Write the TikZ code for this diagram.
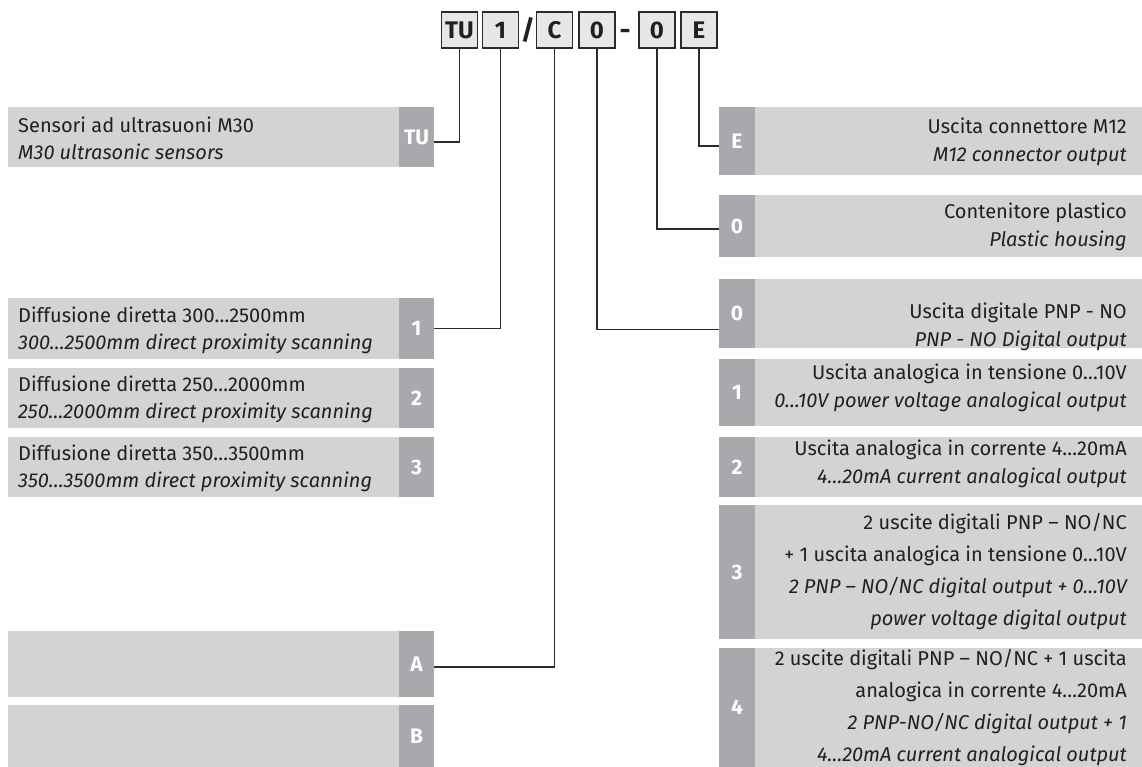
\documentclass[tikz,border=0pt]{standalone}
\usepackage{fontspec}
\setmainfont{Fira Sans}
\definecolor{panelc}{HTML}{D1D3D4}
\definecolor{tabc}{HTML}{A7A9AC}
\definecolor{boxc}{HTML}{E6E7E8}
\definecolor{linec}{HTML}{2B2B2B}
\definecolor{txtc}{HTML}{231F20}
\tikzset{
  panelbox/.style={fill=panelc, draw=none, inner sep=0pt, rectangle},
  lpanel/.style={panelbox, minimum width=426pt},
  rpanel/.style={panelbox, minimum width=423pt},
  ltab/.style={fill=tabc, draw=none, inner sep=0pt, minimum width=35pt, text=white, font=\fontsize{21}{21}\selectfont\bfseries},
  rtab/.style={fill=tabc, draw=none, inner sep=0pt, minimum width=36pt, text=white, font=\fontsize{21}{21}\selectfont\bfseries},
  ltext/.style={anchor=west, align=left, inner sep=0pt, text=txtc, font=\fontsize{20}{27}\selectfont},
  rtext/.style={anchor=east, align=right, inner sep=0pt, text=txtc, font=\fontsize{20}{28}\selectfont},
  rtextfour/.style={anchor=east, align=right, inner sep=0pt, text=txtc, font=\fontsize{20}{32}\selectfont},
  codebox/.style={draw=linec, line width=1.2pt, fill=boxc, minimum width=36pt, minimum height=36pt, inner sep=0pt, text=txtc, font=\fontsize{24}{24}\selectfont\bfseries},
  codesep/.style={inner sep=0pt, anchor=base, text=txtc, font=\fontsize{27}{27}\selectfont\bfseries},
  conn/.style={draw=linec, line width=1.3pt}
}
\begin{document}
\begin{tikzpicture}[x=1pt,y=-1pt]
\useasboundingbox (0,0) rectangle (1142,767);
% code boxes
\node[codebox] (cTU) at (459.5,30) {TU};
\node[codebox] (c1) at (500.5,30) {1};
\node[codesep] (slash) at (528,40) {/};
\node[codebox] (cC) at (554.5,30) {C};
\node[codebox] (c0a) at (597,30) {0};
\node[codesep] (dash) at (625,40) {-};
\node[codebox] (c0b) at (657,30) {0};
\node[codebox] (cE) at (699,30) {E};

% left panels
\node[lpanel, minimum height=60pt] (pTU) at (221,137) {};
\node[ltab, minimum height=60pt] (tTU) at (416.5,137) {TU};
\node[ltext] (xTU) at (18,138) {Sensori ad ultrasuoni M30\\\itshape M30 ultrasonic sensors};

\node[lpanel, minimum height=61pt] (p1) at (221,328.5) {};
\node[ltab, minimum height=61pt] (t1) at (416.5,328.5) {1};
\node[ltext] (x1) at (18,330) {Diffusione diretta 300…2500mm\\\itshape 300…2500mm direct proximity scanning};

\node[lpanel, minimum height=60pt] (p2) at (221,398) {};
\node[ltab, minimum height=60pt] (t2) at (416.5,398) {2};
\node[ltext] (x2) at (18,399.5) {Diffusione diretta 250…2000mm\\\itshape 250…2000mm direct proximity scanning};

\node[lpanel, minimum height=60pt] (p3) at (221,467) {};
\node[ltab, minimum height=60pt] (t3) at (416.5,467) {3};
\node[ltext] (x3) at (18,468.5) {Diffusione diretta 350…3500mm\\\itshape 350…3500mm direct proximity scanning};

\node[lpanel, minimum height=66pt] (pA) at (221,664) {};
\node[ltab, minimum height=66pt] (tA) at (416.5,664) {A};

\node[lpanel, minimum height=62pt] (pB) at (221,736) {};
\node[ltab, minimum height=62pt] (tB) at (416.5,736) {B};

% right panels
\node[rpanel, minimum height=68pt] (pE) at (930.5,141) {};
\node[rtab, minimum height=68pt] (tE) at (737,141) {E};
\node[rtext] (xE) at (1127,142) {Uscita connettore M12\\\itshape M12 connector output};

\node[rpanel, minimum height=62pt] (pH) at (930.5,226) {};
\node[rtab, minimum height=62pt] (tH) at (737,226) {0};
\node[rtext] (xH) at (1127,227) {Contenitore plastico\\\itshape Plastic housing};

\node[rpanel, minimum height=69pt] (pO0) at (930.5,313.5) {};
\node[rtab, minimum height=69pt] (tO0) at (737,313.5) {0};
\node[rtext] (xO0) at (1127,327) {Uscita digitale PNP - NO\\\itshape PNP - NO Digital output};

\node[rpanel, minimum height=67pt] (pO1) at (930.5,392.5) {};
\node[rtab, minimum height=67pt] (tO1) at (737,392.5) {1};
\node[rtext] (xO1) at (1127,388) {Uscita analogica in tensione 0…10V\\\itshape 0…10V power voltage analogical output};

\node[rpanel, minimum height=60pt] (pO2) at (930.5,467) {};
\node[rtab, minimum height=60pt] (tO2) at (737,467) {2};
\node[rtext] (xO2) at (1127,464) {Uscita analogica in corrente 4…20mA\\\itshape 4…20mA current analogical output};

\node[rpanel, minimum height=134pt] (pO3) at (930.5,572) {};
\node[rtab, minimum height=134pt] (tO3) at (737,572) {3};
\node[rtextfour] (xO3) at (1127,572) {2 uscite digitali PNP – NO/NC\\+ 1 uscita analogica in tensione 0…10V\\\itshape 2 PNP – NO/NC digital output + 0…10V\\\itshape power voltage digital output};

\node[rpanel, minimum height=119pt] (pO4) at (930.5,707.5) {};
\node[rtab, minimum height=119pt] (tO4) at (737,707.5) {4};
\node[rtextfour] (xO4) at (1127,708) {2 uscite digitali PNP – NO/NC + 1 uscita\\analogica in corrente 4…20mA\\\itshape 2 PNP-NO/NC digital output + 1\\\itshape 4…20mA current analogical output};

% connectors
\draw[conn] (cTU.south) |- ([yshift=-5pt]tTU.east);
\draw[conn] (c1.south) |- (t1.east);
\draw[conn] (cC.south) |- ([yshift=-3pt]tA.east);
\draw[conn] (c0a.south) |- ([yshift=-16pt]tO0.west);
\draw[conn] (c0b.south) |- ([yshift=-3pt]tH.west);
\draw[conn] (cE.south) |- ([yshift=-5pt]tE.west);
\end{tikzpicture}
\end{document}
